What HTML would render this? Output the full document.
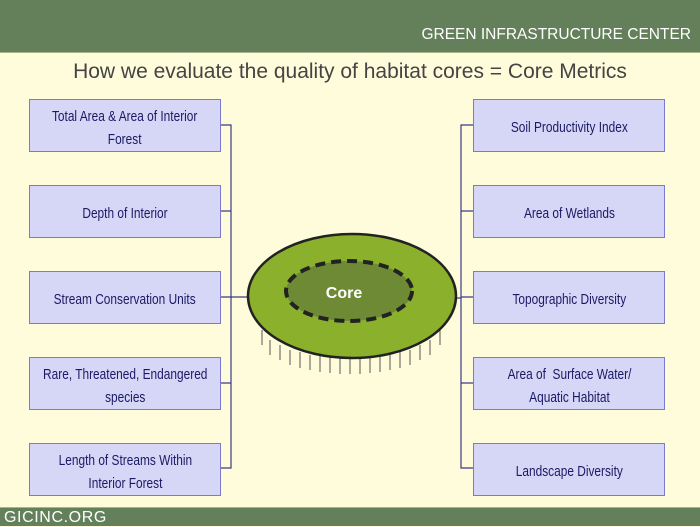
<!DOCTYPE html>
<html><head><meta charset="utf-8"><style>
body{margin:0;width:700px;height:525px;overflow:hidden;background:#fffcdc;position:relative;font-family:"Liberation Sans",sans-serif}
.hd{position:absolute;left:0;top:0;width:700px;height:52px;background:#64805a;border-bottom:1px solid #a9b38e}
.hd span{position:absolute;right:9px;top:26px;color:#fff;font-size:15.5px}
.ft{position:absolute;left:0;top:507px;width:700px;height:18px;background:#64805a;border-top:1px solid #a9b38e}
.ft span{position:absolute;left:4px;top:1px;color:#fff;font-size:16px;letter-spacing:0.6px}
.t{position:absolute;left:0;width:700px;top:60px;text-align:center;font-size:21px;color:#444}
.b{position:absolute;width:190px;height:51px;background:#d6d6f6;border:1px solid #7a7ad0;display:flex;align-items:center;justify-content:center;text-align:center;color:#1a1a66;font-size:14.5px;line-height:23px}
.b div{transform:scaleX(0.82) translateY(3px);white-space:nowrap}
</style></head><body>
<div class="hd"><span>GREEN INFRASTRUCTURE CENTER</span></div>
<div class="t">How we evaluate the quality of habitat cores = Core Metrics</div>
<svg style="position:absolute;left:0;top:0" width="700" height="525">
<g stroke="#3a3a8a" stroke-width="1.2" fill="none">
<path d="M221 125H231V468H221M221 211H231M221 297H231M221 383H231M231 297H255"/>
<path d="M474 125H461V468H474M474 211H461M474 297H461M474 383H461M461 298H445"/>
</g>
<g stroke="#555" stroke-width="1">
<path d="M262 330 L262 345 M280 345 L280 360 M300 352 L300 368 M320 356 L320 372 M340 358 L340 374 M360 358 L360 374 M380 356 L380 372 M400 352 L400 368 M420 345 L420 360 M440 330 L440 345 M290 350 L290 365 M310 355 L310 370 M330 357 L330 373 M350 358 L350 374 M370 357 L370 373 M390 355 L390 370 M410 350 L410 365 M430 340 L430 355 M270 340 L270 355"/>
</g>
<ellipse cx="352" cy="296" rx="104" ry="62" fill="#8ab02c" stroke="#222" stroke-width="2.5"/>
<ellipse cx="349" cy="291" rx="63" ry="30" fill="#6e8a34" stroke="#222" stroke-width="4" stroke-dasharray="10 6"/>
<text x="344" y="298" text-anchor="middle" fill="#fff" font-weight="bold" font-size="16" font-family="Liberation Sans,sans-serif">Core</text>
</svg>
<div class="b" style="left:29px;top:99px"><div>Total Area &amp; Area of Interior<br>Forest</div></div>
<div class="b" style="left:29px;top:185px"><div>Depth of Interior</div></div>
<div class="b" style="left:29px;top:271px"><div>Stream Conservation Units</div></div>
<div class="b" style="left:29px;top:357px"><div>Rare, Threatened, Endangered<br>species</div></div>
<div class="b" style="left:29px;top:443px"><div>Length of Streams Within<br>Interior Forest</div></div>
<div class="b" style="left:473px;top:99px"><div>Soil Productivity Index</div></div>
<div class="b" style="left:473px;top:185px"><div>Area of Wetlands</div></div>
<div class="b" style="left:473px;top:271px"><div>Topographic Diversity</div></div>
<div class="b" style="left:473px;top:357px"><div>Area of &nbsp;Surface Water/<br>Aquatic Habitat</div></div>
<div class="b" style="left:473px;top:443px"><div>Landscape Diversity</div></div>
<div class="ft"><span>GICINC.ORG</span></div>
</body></html>
